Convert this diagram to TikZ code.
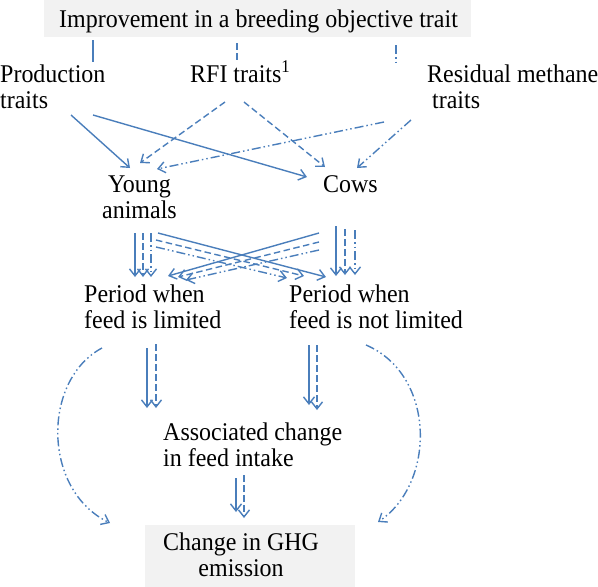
\documentclass[tikz,border=0pt]{standalone}
\usepackage{fontspec}
\setmainfont{Liberation Serif}[FakeStretch=0.94]
\usetikzlibrary{arrows.meta}
\definecolor{arr}{RGB}{74,126,187}
\definecolor{boxgray}{RGB}{242,242,242}
\newcommand\mlines[2][l]{\begin{tabular}[t]{@{}#1@{}}#2\end{tabular}}
\begin{document}
\begin{tikzpicture}[x=1pt,y=-1pt,
  lbl/.style={inner sep=0pt, anchor=base west, font=\fontsize{25.5}{26.5}\selectfont},
  con/.style={draw=arr, line width=1.4pt, -{Straight Barb[length=7pt,width=11pt]}},
  prod/.style={con},
  rfi/.style={con, dash pattern=on 6.5pt off 3.5pt},
  rmt/.style={con, dash pattern=on 9pt off 3pt on 1.5pt off 3pt on 1.5pt off 3pt},
  tickline/.style={draw=arr, line width=1.4pt},
]
\useasboundingbox (0,0) rectangle (598,587);
% grey boxes
\fill[boxgray] (44,0) rectangle (471,37);
\fill[boxgray] (145,525) rectangle (355,587);
% texts
\node[lbl] (title) at (59,27) {Improvement in a breeding objective trait};
\node[lbl] (prodt) at (0,82) {\mlines{Production\\traits}};
\node[lbl] (rfit) at (190,82) {RFI traits\textsuperscript{1}};
\node[lbl] (rmtt) at (427,82) {\mlines{Residual methane\\\hspace{5pt}traits}};
\node[lbl] (young) at (102,192) {\mlines[c]{Young\\animals}};
\node[lbl] (cows) at (323,192) {Cows};
\node[lbl] (perl) at (84,302) {\mlines{Period when\\feed is limited}};
\node[lbl] (perr) at (289,302) {\mlines{Period when\\feed is not limited}};
\node[lbl] (assoc) at (163,440) {\mlines{Associated change\\in feed intake}};
\node[lbl] (ghg) at (163,550) {\mlines[c]{Change in GHG\\emission}};
% coordinates
\coordinate (t1a) at (93,40);  \coordinate (t1b) at (93,62);
\coordinate (t2a) at (237,43); \coordinate (t2b) at (237,62);
\coordinate (t3a) at (396,45); \coordinate (t3b) at (396,62);
\coordinate (pa) at (71,115);  \coordinate (pay) at (130,168);
\coordinate (pb) at (93,115);  \coordinate (pbc) at (307,177);
\coordinate (ra) at (225,102); \coordinate (ray) at (140,163);
\coordinate (rb) at (244,102); \coordinate (rbc) at (325,167);
\coordinate (ma) at (384,122); \coordinate (may) at (157,169);
\coordinate (mb) at (411,120); \coordinate (mbc) at (357,168);
% young down
\coordinate (y1) at (135,233); \coordinate (y1e) at (135,277);
\coordinate (y2) at (143,233); \coordinate (y2e) at (143,277);
\coordinate (y3) at (151,233); \coordinate (y3e) at (151,277);
\coordinate (y4) at (158,233); \coordinate (y4e) at (326,277);
\coordinate (y5) at (156,240); \coordinate (y5e) at (304,276);
\coordinate (y6) at (156,247); \coordinate (y6e) at (287,278);
% cows down
\coordinate (c1) at (336,226); \coordinate (c1e) at (336,276);
\coordinate (c2) at (345,229); \coordinate (c2e) at (345,275);
\coordinate (c3) at (355,230); \coordinate (c3e) at (355,275);
\coordinate (c4) at (319,233); \coordinate (c4e) at (168,276);
\coordinate (c5) at (319,242); \coordinate (c5e) at (178,277);
\coordinate (c6) at (319,250); \coordinate (c6e) at (186,280);
% periods down
\coordinate (l1) at (147,348); \coordinate (l1e) at (147,408);
\coordinate (l2) at (156,344); \coordinate (l2e) at (156,408);
\coordinate (r1) at (309,345); \coordinate (r1e) at (309,405);
\coordinate (r2) at (317,345); \coordinate (r2e) at (317,410);
\coordinate (a1) at (236,478); \coordinate (a1e) at (236,512);
\coordinate (a2) at (244,475); \coordinate (a2e) at (244,518);
\coordinate (lc) at (102,348); \coordinate (lce) at (110,523);
\coordinate (rc) at (366,345); \coordinate (rce) at (378,522);
% ticks
\draw[tickline] (t1a) -- (t1b);
\draw[tickline, dash pattern=on 6.5pt off 3.5pt] (t2a) -- (t2b);
\draw[tickline, dash pattern=on 9pt off 3pt on 1.5pt off 3pt] (t3a) -- (t3b);
% traits to animals
\draw[prod] (pa) -- (pay);
\draw[prod] (pb) -- (pbc);
\draw[rfi] (ra) -- (ray);
\draw[rfi] (rb) -- (rbc);
\draw[rmt] (ma) -- (may);
\draw[rmt] (mb) -- (mbc);
% animals to periods
\draw[prod] (y1) -- (y1e);
\draw[rfi] (y2) -- (y2e);
\draw[rmt] (y3) -- (y3e);
\draw[prod] (y4) -- (y4e);
\draw[rfi] (y5) -- (y5e);
\draw[rmt] (y6) -- (y6e);
\draw[prod] (c1) -- (c1e);
\draw[rfi] (c2) -- (c2e);
\draw[rmt] (c3) -- (c3e);
\draw[prod] (c4) -- (c4e);
\draw[rfi] (c5) -- (c5e);
\draw[rmt] (c6) -- (c6e);
% periods to intake
\draw[prod] (l1) -- (l1e);
\draw[rfi] (l2) -- (l2e);
\draw[prod] (r1) -- (r1e);
\draw[rfi] (r2) -- (r2e);
\draw[prod] (a1) -- (a1e);
\draw[rfi] (a2) -- (a2e);
% curves to GHG
\draw[rmt] (lc) .. controls (42,380) and (42,490) .. (lce);
\draw[rmt] (rc) .. controls (436,375) and (436,483) .. (rce);
\end{tikzpicture}
\end{document}
